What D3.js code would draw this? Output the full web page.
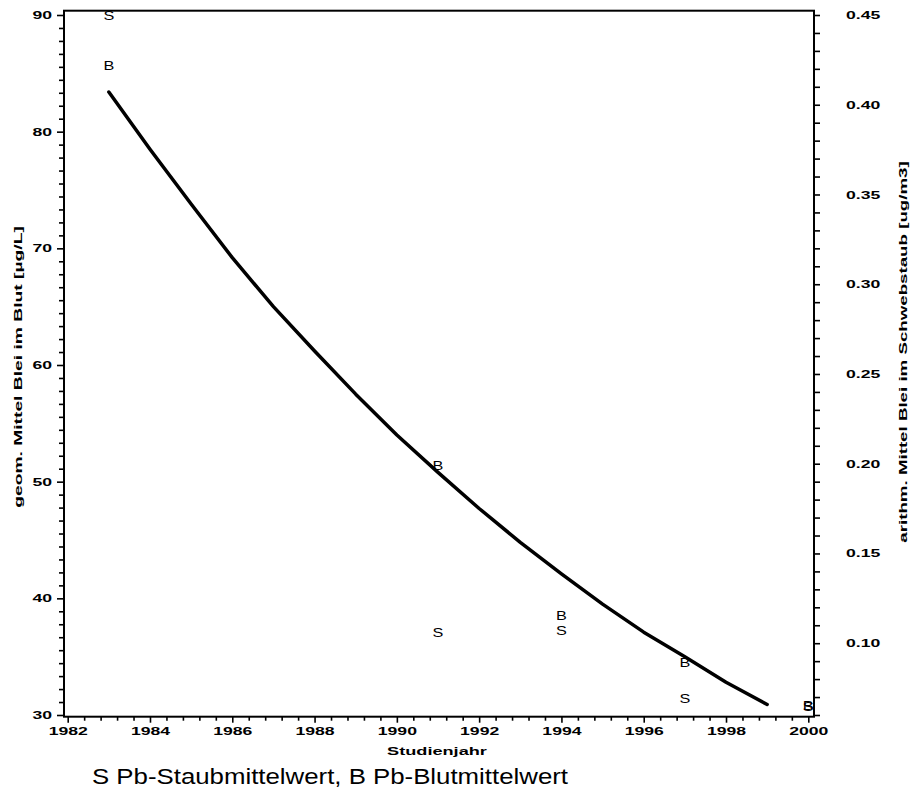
<!DOCTYPE html>
<html>
<head>
<meta charset="utf-8">
<script src="https://cdn.jsdelivr.net/npm/d3@7"></script>
<style>
html,body{margin:0;padding:0;background:#fff;}
svg{display:block;}
</style>
</head>
<body>
<svg id="chart" width="913" height="793"></svg>
<script>
// ---- data ----
const fitYears = [1983,1984,1985,1986,1987,1988,1989,1990,1991,1992,1993,1994,1995,1996,1997,1998,1999];
const fitBlood = [83.4,78.5,73.8,69.2,65.0,61.2,57.5,54.0,50.8,47.7,44.8,42.1,39.5,37.1,35.0,32.8,30.9];
const bloodYears = [1983,1991,1994,1997,2000];
const bloodMeans = [85.7,51.4,38.5,34.5,30.8];
const dustYears = [1983,1991,1994,1997,2000];
const dustMeans = [0.45,0.106,0.107,0.069,0.065];
const xTicks = [1982,1984,1986,1988,1990,1992,1994,1996,1998,2000];
const yLeftTicks = [30,40,50,60,70,80,90];
const yRightTicks = [0.10,0.15,0.20,0.25,0.30,0.35,0.40,0.45];
const xTitle = "Studienjahr";
const yLeftTitle = "geom. Mittel Blei im Blut [µg/L]";
const yRightTitle = "arithm. Mittel Blei im  Schwebstaub [ug/m3]";
const legendText = "S Pb-Staubmittelwert, B Pb-Blutmittelwert";

// ---- layout ----
const frame = {l:64, r:814, t:10.7, b:716.7};
const svg = d3.select("#chart");
const x = d3.scaleLinear().domain([1982,2000]).range([67.7,808.3]);
const yL = d3.scaleLinear().domain([30,90]).range([715,15]);
const yR = d3.scaleLinear().domain([0.06,0.45]).range([715,15]);
const FONT = "'Liberation Sans', Arial, Helvetica, sans-serif";

function stretch(sel, f){
  sel.each(function(){
    const n = this.getComputedTextLength();
    this.setAttribute("textLength", n*f);
    this.setAttribute("lengthAdjust","spacingAndGlyphs");
  });
}

// minor tick values
const xMinor = d3.range(0,46).map(i=>+(1982+i*0.4).toFixed(1)).filter(v=>v<=2000 && !xTicks.includes(v));
const yLMinor = [];
for(let k=0;k<6;k++){ for(let j=1;j<9;j++){ yLMinor.push(30+k*10+j*10/9); } }
const yRMinor = d3.range(6,46).map(i=>i/100).filter(v=>!yRightTicks.some(t=>Math.abs(t-v)<1e-9));

// axes
function styleAxis(g){
  g.select(".domain").remove();
  g.selectAll(".tick line").attr("stroke","#000").attr("stroke-width",1.6);
}
const gxMin = svg.append("g").attr("transform",`translate(0,${frame.b})`)
  .call(d3.axisBottom(x).tickValues(xMinor).tickSize(4).tickFormat(""));
styleAxis(gxMin);
const gx = svg.append("g").attr("transform",`translate(0,${frame.b})`)
  .call(d3.axisBottom(x).tickValues(xTicks).tickSize(6).tickPadding(5).tickFormat(d3.format("d")));
styleAxis(gx);
gx.selectAll("text").attr("font-family",FONT).attr("font-weight","bold").attr("font-size",11).attr("fill","#000");
stretch(gx.selectAll("text"),1.6);

const gyMin = svg.append("g").attr("transform",`translate(${frame.l},0)`)
  .call(d3.axisLeft(yL).tickValues(yLMinor).tickSize(5).tickFormat(""));
styleAxis(gyMin);
const gy = svg.append("g").attr("transform",`translate(${frame.l},0)`)
  .call(d3.axisLeft(yL).tickValues(yLeftTicks).tickSize(7).tickPadding(5).tickFormat(d3.format("d")));
styleAxis(gy);
gy.selectAll("text").attr("font-family",FONT).attr("font-weight","bold").attr("font-size",11).attr("fill","#000");
stretch(gy.selectAll("text"),1.6);

const gyrMin = svg.append("g").attr("transform",`translate(${frame.r},0)`)
  .call(d3.axisRight(yR).tickValues(yRMinor).tickSize(6).tickFormat(""));
styleAxis(gyrMin);
const gyr = svg.append("g").attr("transform",`translate(${frame.r},0)`)
  .call(d3.axisRight(yR).tickValues(yRightTicks).tickSize(6).tickPadding(26).tickFormat(d3.format(".2f")));
styleAxis(gyr);
gyr.selectAll("text").attr("font-family",FONT).attr("font-weight","bold").attr("font-size",11).attr("fill","#000");
stretch(gyr.selectAll("text"),1.6);

// frame
svg.append("rect").attr("x",frame.l).attr("y",frame.t).attr("width",frame.r-frame.l).attr("height",frame.b-frame.t)
  .attr("fill","none").attr("stroke","#000").attr("stroke-width",2);

// fitted curve
const line = d3.line().x((d,i)=>x(fitYears[i])).y(d=>yL(d));
svg.append("path").datum(fitBlood).attr("d",line).attr("fill","none").attr("stroke","#000")
  .attr("stroke-width",3.5).attr("stroke-linejoin","round").attr("stroke-linecap","round");

// markers
const mk = svg.append("g").attr("font-family",FONT).attr("font-size",12.5).attr("text-anchor","middle").attr("fill","#000");
mk.selectAll("text.b").data(bloodMeans).join("text").attr("class","b")
  .attr("x",(d,i)=>x(bloodYears[i])).attr("y",d=>yL(d)).attr("dy","0.36em").text("B");
mk.selectAll("text.s").data(dustMeans).join("text").attr("class","s")
  .attr("x",(d,i)=>x(dustYears[i])).attr("y",d=>yR(d)).attr("dy","0.36em").text("S");
stretch(mk.selectAll("text"),1.3);

// titles
const tx = svg.append("text").attr("x",437).attr("y",755).attr("text-anchor","middle")
  .attr("font-family",FONT).attr("font-weight","bold").attr("font-size",11).text(xTitle);
stretch(tx,1.65);
const tyl = svg.append("text").attr("transform","translate(22,367) rotate(-90)").attr("text-anchor","middle")
  .attr("font-family",FONT).attr("font-weight","bold").attr("font-size",11).text(yLeftTitle);
stretch(tyl,1.75);
const tyr = svg.append("text").attr("transform","translate(907,352) rotate(-90)").attr("text-anchor","middle")
  .attr("font-family",FONT).attr("font-weight","bold").attr("font-size",11).text(yRightTitle);
stretch(tyr,1.7);

// legend
const lg = svg.append("text").attr("x",92).attr("y",784)
  .attr("font-family",FONT).attr("font-size",22).text(legendText);
lg.attr("textLength",476).attr("lengthAdjust","spacingAndGlyphs");
</script>
</body>
</html>
